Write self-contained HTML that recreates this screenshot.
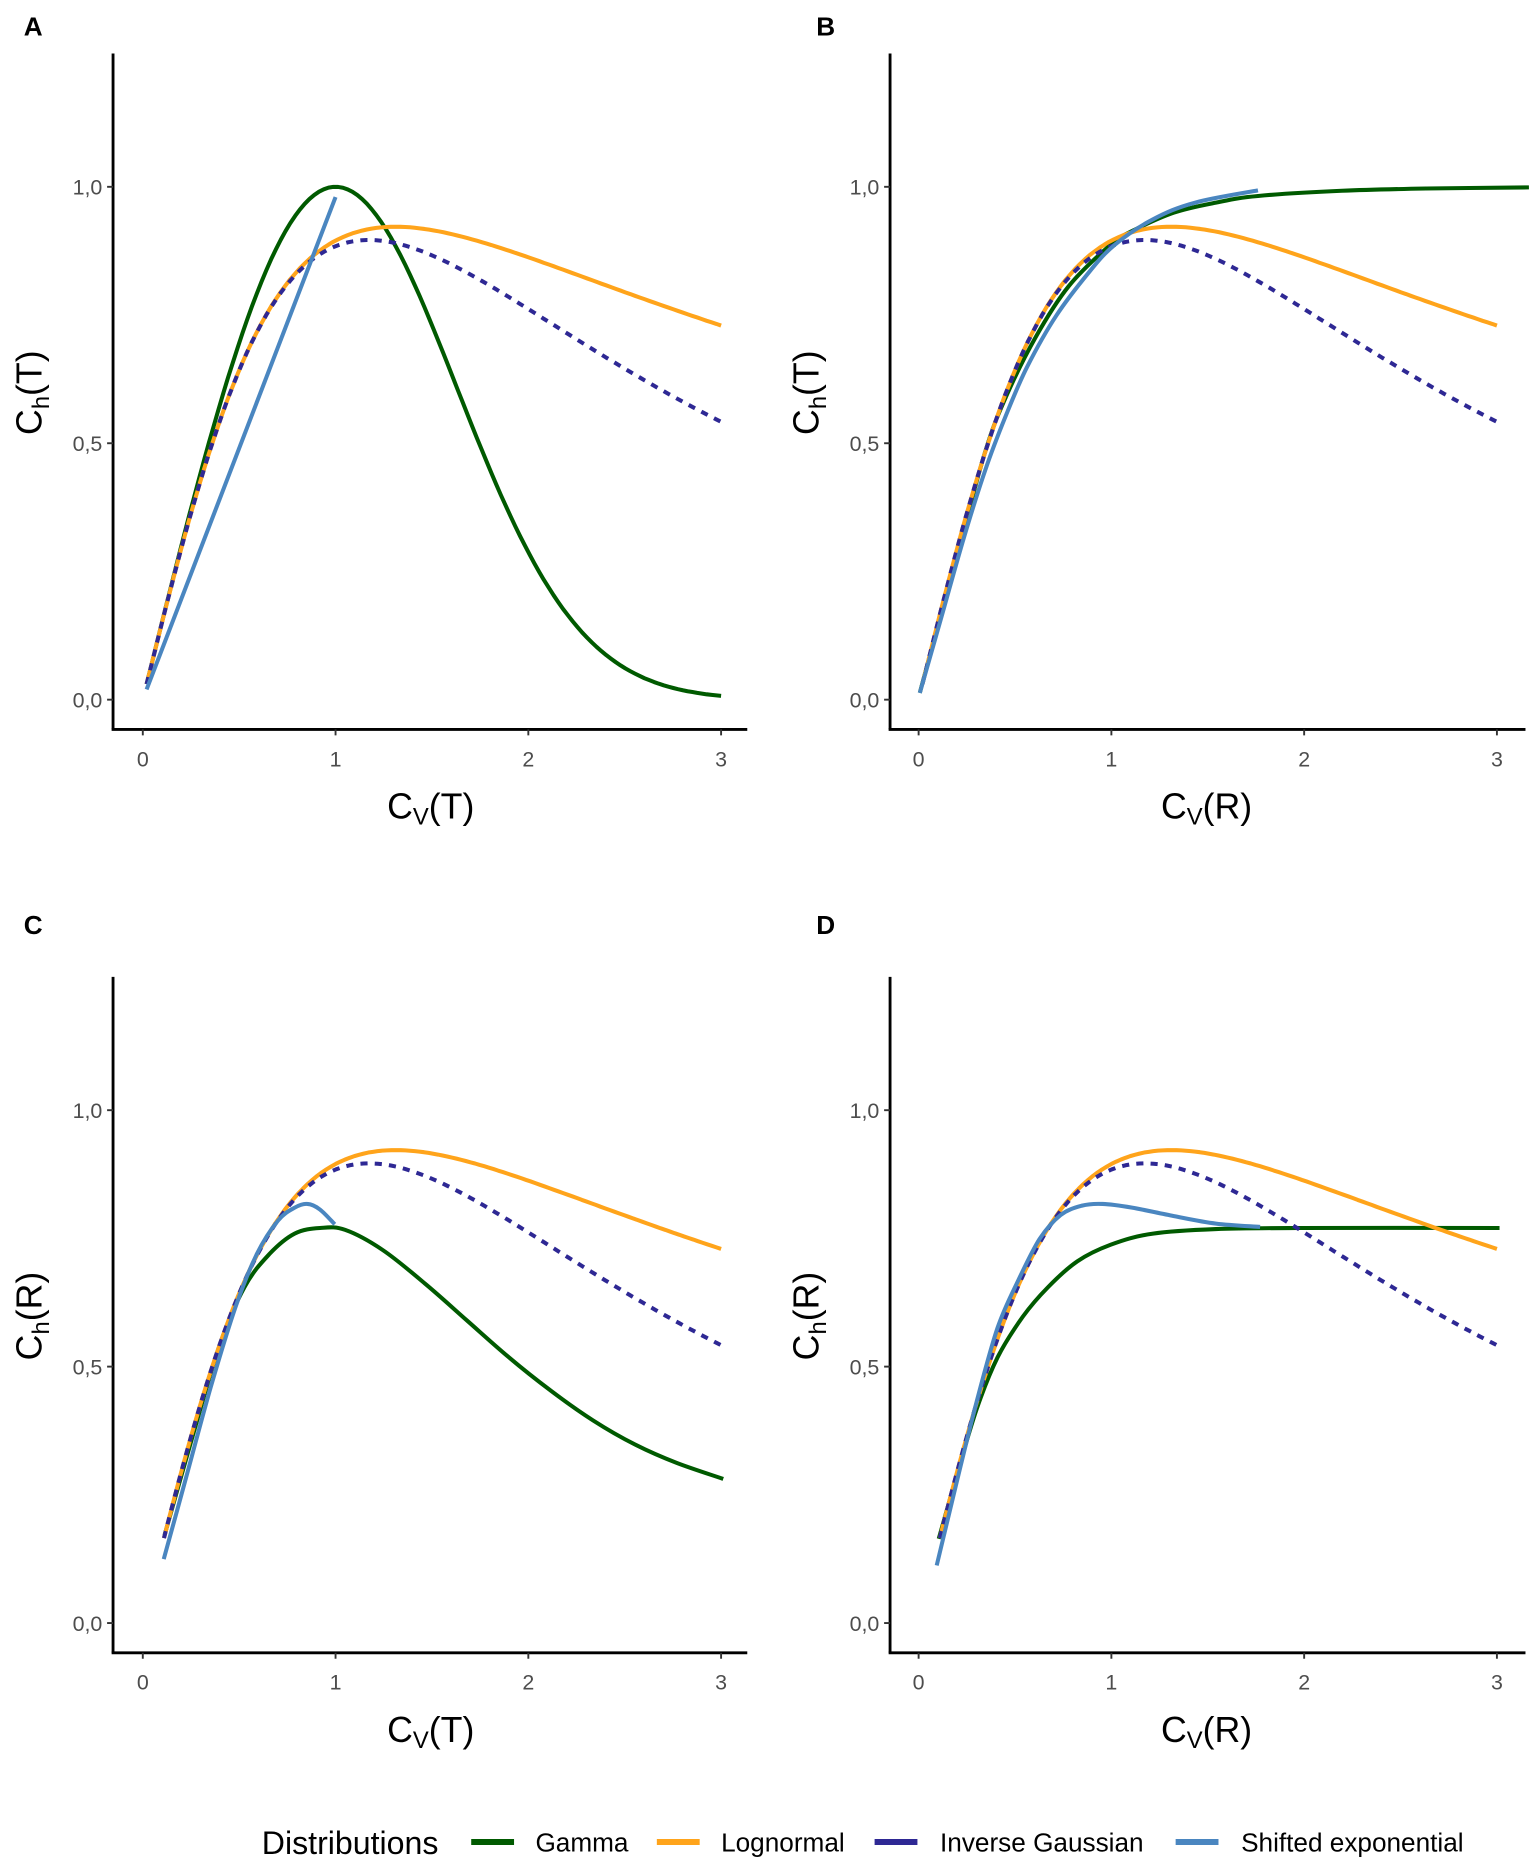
<!DOCTYPE html>
<html><head><meta charset="utf-8">
<style>html,body{margin:0;padding:0;background:#fff}svg{display:block}</style>
</head><body>
<svg id="s" width="1535" height="1864" viewBox="0 0 1290 1566.5" xmlns="http://www.w3.org/2000/svg" font-family="Liberation Sans, sans-serif"></svg>
<script>
(function(){
var s=document.getElementById('s');var o='';
var G='#005a00',O='#ffa41b',IG='#2e2894',B='#4a86c0';
function lgamma(x){if(x<0.5)return Math.log(Math.PI/Math.sin(Math.PI*x))-lgamma(1-x);x-=1;var g=7,c=[0.99999999999980993,676.5203681218851,-1259.1392167224028,771.32342877765313,-176.61502916214059,12.507343278686905,-0.13857109526572012,9.9843695780195716e-6,1.5056327351493116e-7];var a=c[0],t=x+g+0.5;for(var i=1;i<9;i++)a+=c[i]/(x+i);return 0.5*Math.log(2*Math.PI)+(x+0.5)*Math.log(t)-t+Math.log(a);}
function digamma(x){var r=0;while(x<6){r-=1/x;x+=1;}var f=1/(x*x);return r+Math.log(x)-0.5/x-f*(1/12-f*(1/120-f*(1/252-f*(1/240-f/132))));}
function chGamma(cv){var k=1/(cv*cv);return Math.exp(k-1+lgamma(k)+(1-k)*digamma(k))/k;}
function chLN(cv){var s2=Math.log(1+cv*cv),sg=Math.sqrt(s2);return sg*Math.sqrt(2*Math.PI)*Math.exp(-0.5-s2/2);}
function chIG(cv){var l=1/(cv*cv);var a=-15,b=9,n=24000,h=(b-a)/n,H=0;for(var i=0;i<=n;i++){var u=a+i*h,x=Math.exp(u);var lf=0.5*Math.log(l/(2*Math.PI*x*x*x))-l*(x-1)*(x-1)/(2*x);var f=Math.exp(lf);if(f>0)H-=f*lf*x*h*((i==0||i==n)?0.5:1);}return Math.exp(H-1);}
var panels=[{x0:120,y0:588,ax:95,top:45,bot:613,right:628,L:'A',lx:20,ly:30,xt:'T',yt:'T'},
{x0:772,y0:588,ax:748,top:45,bot:613,right:1282,L:'B',lx:686,ly:30,xt:'R',yt:'T'},
{x0:120,y0:1364,ax:95,top:821,bot:1389,right:628,L:'C',lx:20,ly:785,xt:'T',yt:'R'},
{x0:772,y0:1364,ax:748,top:821,bot:1389,right:1282,L:'D',lx:686,ly:785,xt:'R',yt:'R'}];
function path(pts,col,dash){var d='M'+pts.map(function(p){return p[0].toFixed(1)+','+p[1].toFixed(1);}).join('L');o+='<path d="'+d+'" fill="none" stroke="'+col+'" stroke-width="3.4" stroke-linejoin="round" '+(dash?'stroke-dasharray="6,6"':'stroke-linecap="butt"')+'/>';}
function fn(P,f,a,b){var pts=[];for(var i=0;i<=120;i++){var c=a+(b-a)*i/120;pts.push([P.x0+162*c,P.y0-431*f(c)]);}return pts;}
var igCache={};function igpts(P,a){var pts=[];for(var i=0;i<=120;i++){var c=a+(3-a)*i/120;var key=c.toFixed(5);if(!(key in igCache))igCache[key]=chIG(c);pts.push([P.x0+162*c,P.y0-431*igCache[key]]);}return pts;}
function zm(arr,ox,oy){return arr.map(function(p){return [ox+p[0]*0.353,oy+p[1]*0.311];});}
function smooth(pts,col){var d='M'+pts[0][0].toFixed(1)+','+pts[0][1].toFixed(1);for(var i=0;i<pts.length-1;i++){var p0=pts[Math.max(0,i-1)],p1=pts[i],p2=pts[i+1],p3=pts[Math.min(pts.length-1,i+2)];d+='C'+(p1[0]+(p2[0]-p0[0])/6).toFixed(1)+','+(p1[1]+(p2[1]-p0[1])/6).toFixed(1)+' '+(p2[0]-(p3[0]-p1[0])/6).toFixed(1)+','+(p2[1]-(p3[1]-p1[1])/6).toFixed(1)+' '+p2[0].toFixed(1)+','+p2[1].toFixed(1);}o+='<path d="'+d+'" fill="none" stroke="'+col+'" stroke-width="3.4"/>';}
panels.forEach(function(P,idx){
 // axes
 o+='<line x1="'+P.ax+'" y1="'+P.top+'" x2="'+P.ax+'" y2="'+P.bot+'" stroke="#000" stroke-width="2.4"/>';
 o+='<line x1="'+(P.ax-1.2)+'" y1="'+P.bot+'" x2="'+P.right+'" y2="'+P.bot+'" stroke="#000" stroke-width="2.4"/>';
 [0,0.5,1].forEach(function(v,i){var y=P.y0-431*v;o+='<line x1="'+(P.ax-5)+'" y1="'+y+'" x2="'+P.ax+'" y2="'+y+'" stroke="#333" stroke-width="1.6"/>';o+='<text x="'+(P.ax-9)+'" y="'+(y+6.5)+'" text-anchor="end" font-size="18" fill="#4d4d4d">'+['0,0','0,5','1,0'][i]+'</text>';});
 [0,1,2,3].forEach(function(v){var x=P.x0+162*v;o+='<line x1="'+x+'" y1="'+P.bot+'" x2="'+x+'" y2="'+(P.bot+5)+'" stroke="#333" stroke-width="1.6"/>';o+='<text x="'+x+'" y="'+(P.bot+31)+'" text-anchor="middle" font-size="18" fill="#4d4d4d">'+v+'</text>';});
 o+='<text x="'+P.lx+'" y="'+P.ly+'" font-size="22" font-weight="bold">'+P.L+'</text>';
 var cx=P.x0+242;o+='<text x="'+cx+'" y="'+(P.bot+75)+'" text-anchor="middle" font-size="30">C<tspan font-size="20" dy="5">V</tspan><tspan dy="-5">('+P.xt+')</tspan></text>';
 var cy=P.y0-258;o+='<text transform="translate('+(P.ax-60)+','+cy+') rotate(-90)" text-anchor="middle" font-size="30">C<tspan font-size="20" dy="6">h</tspan><tspan dy="-6">('+P.yt+')</tspan></text>';
 var a=(idx<2)?0.02:0.11;
 if(idx==0){path(fn(P,chGamma,0.02,3),G);}
 if(idx==1){smooth(zm([[95,1440],[180,1080],[250,790],[300,640],[370,480],[450,340],[550,228],[600,192],[700,142],[800,115],[900,97],[1100,83],[1300,77],[1545,74]],739.5,134.5),G);}
 if(idx==2){smooth(zm([[130,1230],[200,950],[260,720],[320,560],[380,470],[440,415],[500,400],[560,405],[650,460],[750,550],[850,650],[950,750],[1050,840],[1150,920],[1250,985],[1350,1035],[1460,1078]],92.4,907.6),G);}
 if(idx==3){smooth(zm([[140,1240],[180,1080],[230,890],[280,750],[340,640],[400,560],[470,490],[550,445],[650,415],[800,403],[1000,400],[1475,400]],739.5,907.6),G);}
 path(fn(P,chLN,a,3),O);
 path(igpts(P,a),IG,true);
 if(idx==0){path([[P.x0+162*0.02,P.y0-431*0.02],[P.x0+162,P.y0-431*0.98]],B);}
 if(idx==1){smooth(zm([[95,1440],[150,1220],[200,1020],[250,840],[300,690],[350,560],[420,420],[500,300],[560,228],[650,160],[750,115],[900,82]],739.5,134.5),B);}
 if(idx==2){smooth(zm([[128,1295],[180,1080],[240,830],[300,610],[350,470],[400,380],[440,345],[470,335],[500,350],[535,390]],92.4,907.6),B);}
 if(idx==3){smooth(zm([[135,1312],[180,1100],[230,870],[280,670],[330,540],[380,430],[430,365],[480,340],[530,335],[600,345],[700,368],[800,388],[905,397]],739.5,907.6),B);}
});
// legend
o+='<text x="220" y="1558" font-size="27">Distributions</text>';
[[396,450,G,'Gamma'],[552,606,O,'Lognormal'],[735,790,IG,'Inverse Gaussian'],[988,1043,B,'Shifted exponential']].forEach(function(l){o+='<line x1="'+l[0]+'" y1="1548" x2="'+(l[0]+36)+'" y2="1548" stroke="'+l[2]+'" stroke-width="5"/>';o+='<text x="'+l[1]+'" y="1556" font-size="22">'+l[3]+'</text>';});
s.innerHTML=o;
})();
</script>
</body></html>
